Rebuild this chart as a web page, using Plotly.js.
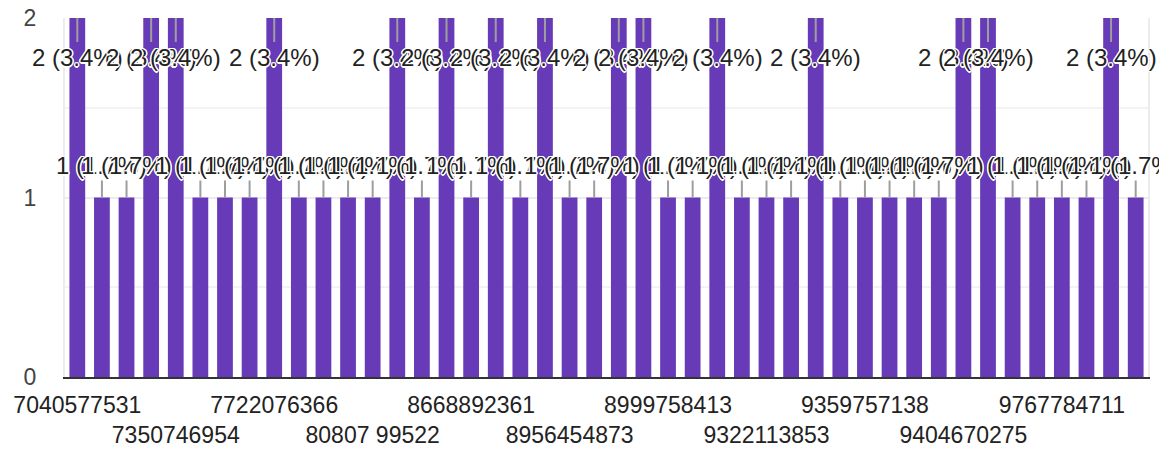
<!DOCTYPE html>
<html>
<head>
<meta charset="utf-8">
<script src="https://cdn.plot.ly/plotly-3.0.1.min.js"></script>
<style>html,body{margin:0;padding:0;background:#fff;}#chart{width:1159px;height:456px;}</style>
</head>
<body>
<div id="chart"></div>
<script>
// Responses per bar (44 bars, left to right)
const counts = [2,1,1,2,2,1,1,1,2,1,1,1,1,2,1,2,1,2,1,2,1,1,2,2,1,1,2,1,1,1,2,1,1,1,1,1,2,2,1,1,1,1,2,1];
// Visible category labels (every 4th bar)
const tickLabels = ["7040577531","7350746954","7722076366","80807 99522","8668892361","8956454873","8999758413","9322113853","9359757138","9404670275","9767784711"];
const labelEvery = 4;

const total = counts.reduce((a,b)=>a+b,0);
const xs = counts.map((_,i)=>i);
const tickvals = tickLabels.map((_,k)=>k*labelEvery);
const ticktext = tickLabels.map((t,k)=> k%2===1 ? " <br>"+t : t);

const halo = "white 1.5px 0px 0px, white -1.5px 0px 0px, white 0px 1.5px 0px, white 0px -1.5px 0px, white 1px 1px 0px, white -1px -1px 0px, white 1px -1px 0px, white -1px 1px 0px";
const annotations = counts.map((v,i)=>({
  x: i, y: v, xref: 'x', yref: 'y',
  text: v + " (" + (v/total*100).toFixed(1) + "%)",
  showarrow: true, arrowhead: 0, arrowwidth: 2, arrowcolor: '#9e9e9e',
  ax: 0, ay: v >= 2 ? 39 : -32,
  font: {family: 'Liberation Sans, Arial, sans-serif', size: 24, color: '#222', shadow: halo}
}));

const data = [{
  type: 'bar', x: xs, y: counts,
  marker: {color: '#673ab7'},
  hoverinfo: 'skip'
}];

const layout = {
  width: 1159, height: 456,
  margin: {l: 65, r: 11, t: 18, b: 79},
  paper_bgcolor: '#fff', plot_bgcolor: '#fff',
  bargap: 0.36,
  showlegend: false,
  font: {family: 'Liberation Sans, Arial, sans-serif', size: 23, color: '#222'},
  xaxis: {
    type: 'linear', range: [-0.5, counts.length - 0.5],
    tickmode: 'array', tickvals: tickvals, ticktext: ticktext,
    tickangle: 0, automargin: false,
    ticks: '', showgrid: false, zeroline: false,
    showline: true, linecolor: '#333', linewidth: 2,
    ticklabelstandoff: 6,
    tickfont: {size: 23, color: '#222'}
  },
  yaxis: {
    range: [0, 2], tickmode: 'array', tickvals: [0,1,2], ticktext: ['0','1','2'],
    showgrid: true, gridcolor: '#ececec', gridwidth: 2,
    minor: {dtick: 0.5, showgrid: true, gridcolor: '#f3f3f3', gridwidth: 2},
    zeroline: false, showline: true, mirror: true, linecolor: '#ececec', linewidth: 2,
    ticks: '', ticklabelstandoff: 22, automargin: false,
    tickfont: {size: 23, color: '#444'}
  },
  annotations: annotations
};

Plotly.newPlot('chart', data, layout, {displayModeBar: false, staticPlot: true});
</script>
</body>
</html>
